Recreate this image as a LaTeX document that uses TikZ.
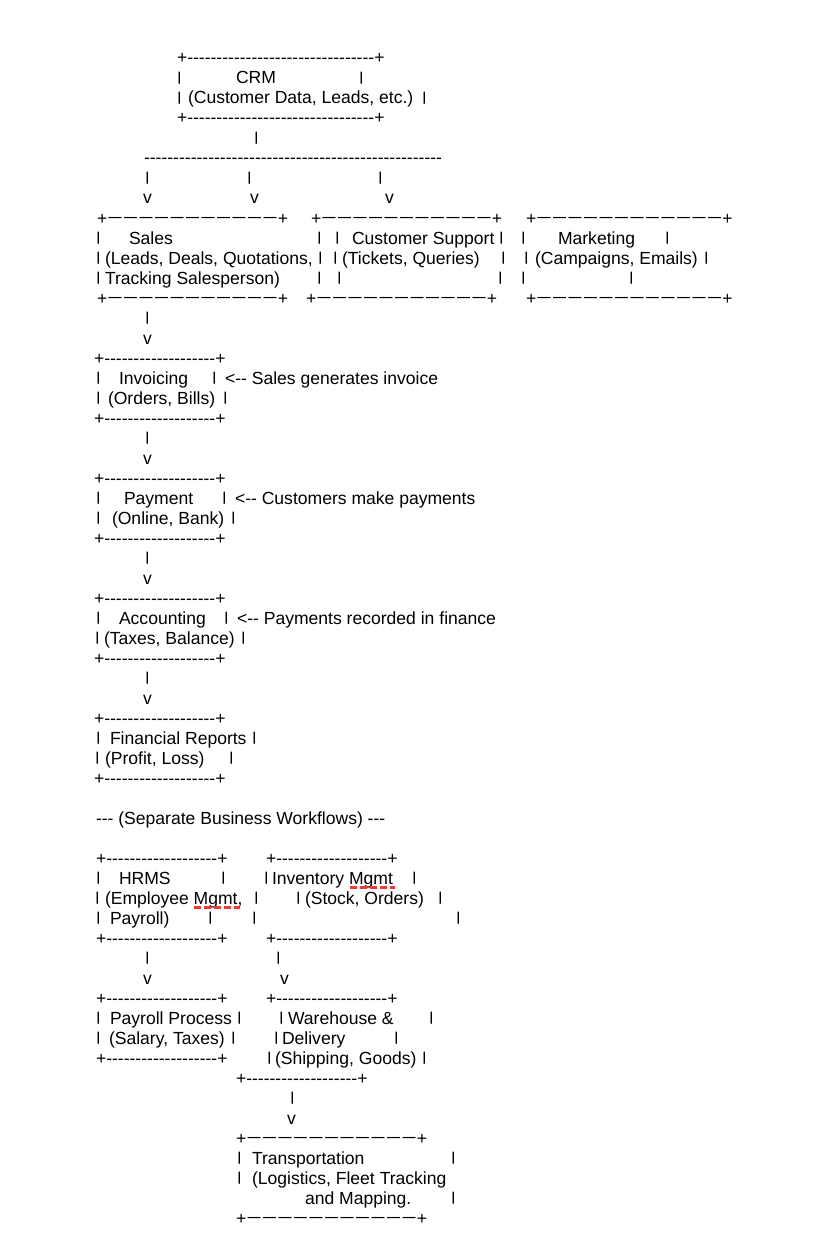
\documentclass[tikz,border=0pt]{standalone}
\usepackage{fontspec}
\usepackage{graphicx}
\newfontfamily\af{Liberation Sans}
\definecolor{spell}{RGB}{238,58,48}
\newsavebox\vbbox
\newlength\capht
\newcommand\vb{\sbox\vbbox{|}\setlength\capht{\fontcharht\font`H}\pgfmathsetmacro\vbs{\capht/(\ht\vbbox+\dp\vbbox)}\pgfmathsetlengthmacro\vbr{\dp\vbbox*\vbs}\raisebox{\vbr}{\scalebox{1}[\vbs]{|}}}
\newcommand\dsh{\makebox[15.5pt][c]{\raisebox{1.2pt}{\scalebox{0.74}[1]{—}}}}
\newcommand\repch[2]{\ifnum#1>0 #2\expandafter\repch\expandafter{\number\numexpr#1-1\relax}{#2}\fi}
\newcommand\T[4]{\node[txt] (#1) at (#2,#3) {#4};}
\tikzset{
  txt/.style={anchor=base west, inner sep=0pt, outer sep=0pt, xshift=-1pt,
    font=\af\fontsize{17.55}{20}\selectfont},
  squig/.style={draw=spell, line width=3.2pt, dash pattern=on 6.5pt off 3.5pt}
}
\begin{document}
\begin{tikzpicture}[x=1pt,y=-1pt]
\fill[white] (0,0) rectangle (830,1252);
\useasboundingbox (0,0) rectangle (830,1252);
% CRM
\T{crmTop}{178}{64}{+\repch{32}{-}+}
\T{crmL1}{178}{84}{\vb}
\T{crmTitle}{237}{84}{CRM}
\T{crmR1}{360}{84}{\vb}
\T{crmL2}{178}{104}{\vb}
\T{crmSub}{189}{104}{(Customer Data, Leads, etc.)}
\T{crmR2}{423}{104}{\vb}
\T{crmBot}{178}{124}{+\repch{32}{-}+}
\T{crmStem}{255}{144}{\vb}
\T{split}{145}{164}{\repch{51}{-}}
\T{brA}{146}{184}{\vb}
\T{brB}{248}{184}{\vb}
\T{brC}{379}{184}{\vb}
\T{vA}{144}{204}{v}
\T{vB}{251}{204}{v}
\T{vC}{386}{204}{v}
% three boxes
\T{salesTop}{98}{224}{+\repch{11}{\dsh}+}
\T{supTop}{312}{224}{+\repch{11}{\dsh}+}
\T{mktTop}{527}{224}{+\repch{12}{\dsh}+}
\T{s1a}{97}{244}{\vb}
\T{salesT}{130}{244}{Sales}
\T{s1b}{318}{244}{\vb}
\T{c1a}{336}{244}{\vb}
\T{supT}{353}{244}{Customer Support}
\T{c1b}{500}{244}{\vb}
\T{m1a}{522}{244}{\vb}
\T{mktT}{559}{244}{Marketing}
\T{m1b}{666}{244}{\vb}
\T{s2a}{97}{264}{\vb}
\T{salesS}{106}{264}{(Leads, Deals, Quotations,}
\T{s2b}{319}{264}{\vb}
\T{c2a}{334}{264}{\vb}
\T{supS}{343}{264}{(Tickets, Queries)}
\T{c2b}{502}{264}{\vb}
\T{m2a}{525}{264}{\vb}
\T{mktS}{536}{264}{(Campaigns, Emails)}
\T{m2b}{705}{264}{\vb}
\T{s3a}{97}{284}{\vb}
\T{salesS2}{106}{284}{Tracking Salesperson)}
\T{s3b}{318}{284}{\vb}
\T{c3a}{338}{284}{\vb}
\T{c3b}{499}{284}{\vb}
\T{m3a}{522}{284}{\vb}
\T{m3b}{630}{284}{\vb}
\T{salesBot}{98}{304}{+\repch{11}{\dsh}+}
\T{supBot}{307}{304}{+\repch{11}{\dsh}+}
\T{mktBot}{527}{304}{+\repch{12}{\dsh}+}
\T{aSI}{146}{324}{\vb}
\T{vSI}{144}{344}{v}
% Invoicing
\T{invTop}{95}{364}{+\repch{19}{-}+}
\T{i1a}{97}{384}{\vb}
\T{invT}{120}{384}{Invoicing}
\T{i1b}{213}{384}{\vb}
\T{invNote}{226}{384}{<-- Sales generates invoice}
\T{i2a}{97}{404}{\vb}
\T{invS}{109}{404}{(Orders, Bills)}
\T{i2b}{224}{404}{\vb}
\T{invBot}{95}{424}{+\repch{19}{-}+}
\T{aIP}{146}{444}{\vb}
\T{vIP}{144}{464}{v}
% Payment
\T{payTop}{95}{484}{+\repch{19}{-}+}
\T{p1a}{97}{504}{\vb}
\T{payT}{125}{504}{Payment}
\T{p1b}{223}{504}{\vb}
\T{payNote}{236}{504}{<-- Customers make payments}
\T{p2a}{97}{524}{\vb}
\T{payS}{113}{524}{(Online, Bank)}
\T{p2b}{232}{524}{\vb}
\T{payBot}{95}{544}{+\repch{19}{-}+}
\T{aPA}{146}{564}{\vb}
\T{vPA}{144}{584}{v}
% Accounting
\T{accTop}{95}{604}{+\repch{19}{-}+}
\T{a1a}{97}{624}{\vb}
\T{accT}{120}{624}{Accounting}
\T{a1b}{225}{624}{\vb}
\T{accNote}{238}{624}{<-- Payments recorded in finance}
\T{a2a}{96}{644}{\vb}
\T{accS}{105}{644}{(Taxes, Balance)}
\T{a2b}{242}{644}{\vb}
\T{accBot}{95}{664}{+\repch{19}{-}+}
\T{aAF}{146}{684}{\vb}
\T{vAF}{144}{704}{v}
% Financial reports
\T{finTop}{95}{724}{+\repch{19}{-}+}
\T{f1a}{97}{744}{\vb}
\T{finT}{111}{744}{Financial Reports}
\T{f1b}{253}{744}{\vb}
\T{f2a}{96}{764}{\vb}
\T{finS}{106}{764}{(Profit, Loss)}
\T{f2b}{230}{764}{\vb}
\T{finBot}{95}{784}{+\repch{19}{-}+}
\T{sep}{97}{824}{--- (Separate Business Workflows) ---}
% HRMS and Inventory
\T{hrTop}{97}{864}{+\repch{19}{-}+}
\T{invmTop}{267}{864}{+\repch{19}{-}+}
\T{h1a}{97}{884}{\vb}
\T{hrT}{120}{884}{HRMS}
\T{h1b}{222}{884}{\vb}
\T{n1a}{265}{884}{\vb}
\T{invmT}{273}{884}{Inventory Mgmt}
\T{n1b}{413}{884}{\vb}
\T{h2a}{96}{904}{\vb}
\T{hrS}{106}{904}{(Employee Mgmt,}
\T{h2b}{255}{904}{\vb}
\T{n2a}{297}{904}{\vb}
\T{invmS}{306}{904}{(Stock, Orders)}
\T{n2b}{439}{904}{\vb}
\T{h3a}{97}{924}{\vb}
\T{hrS2}{111}{924}{Payroll)}
\T{h3b}{209}{924}{\vb}
\T{n3a}{253}{924}{\vb}
\T{n3b}{457}{924}{\vb}
\T{hrBot}{97}{944}{+\repch{19}{-}+}
\T{invmBot}{267}{944}{+\repch{19}{-}+}
\T{aHP}{146}{964}{\vb}
\T{aIW}{277}{964}{\vb}
\T{vHP}{144}{984}{v}
\T{vIW}{281}{984}{v}
% Payroll and Warehouse
\T{prTop}{97}{1004}{+\repch{19}{-}+}
\T{whTop}{267}{1004}{+\repch{19}{-}+}
\T{r1a}{97}{1024}{\vb}
\T{prT}{111}{1024}{Payroll Process}
\T{r1b}{238}{1024}{\vb}
\T{w1a}{280}{1024}{\vb}
\T{whT}{289}{1024}{Warehouse \&}
\T{w1b}{430}{1024}{\vb}
\T{r2a}{97}{1044}{\vb}
\T{prS}{110}{1044}{(Salary, Taxes)}
\T{r2b}{232}{1044}{\vb}
\T{w2a}{275}{1044}{\vb}
\T{whT2}{283}{1044}{Delivery}
\T{w2b}{395}{1044}{\vb}
\T{prBot}{97}{1064}{+\repch{19}{-}+}
\T{w3a}{268}{1064}{\vb}
\T{whS}{276}{1064}{(Shipping, Goods)}
\T{w3b}{423}{1064}{\vb}
\T{whBot}{237}{1084}{+\repch{19}{-}+}
\T{aWT}{291}{1104}{\vb}
\T{vWT}{288}{1124}{v}
% Transportation
\T{trTop}{237}{1144}{+\repch{11}{\dsh}+}
\T{t1a}{238}{1164}{\vb}
\T{trT}{253}{1164}{Transportation}
\T{t1b}{452}{1164}{\vb}
\T{t2a}{238}{1184}{\vb}
\T{trS}{253}{1184}{(Logistics, Fleet Tracking}
\T{trS2}{306}{1204}{and Mapping.}
\T{t3b}{452}{1204}{\vb}
\T{trBot}{237}{1224}{+\repch{11}{\dsh}+}
% spell-check marks under "Mgmt"
\draw[squig] (350,887.5) -- (395,887.5);
\draw[squig] (194,907.5) -- (240,907.5);
\end{tikzpicture}
\end{document}
